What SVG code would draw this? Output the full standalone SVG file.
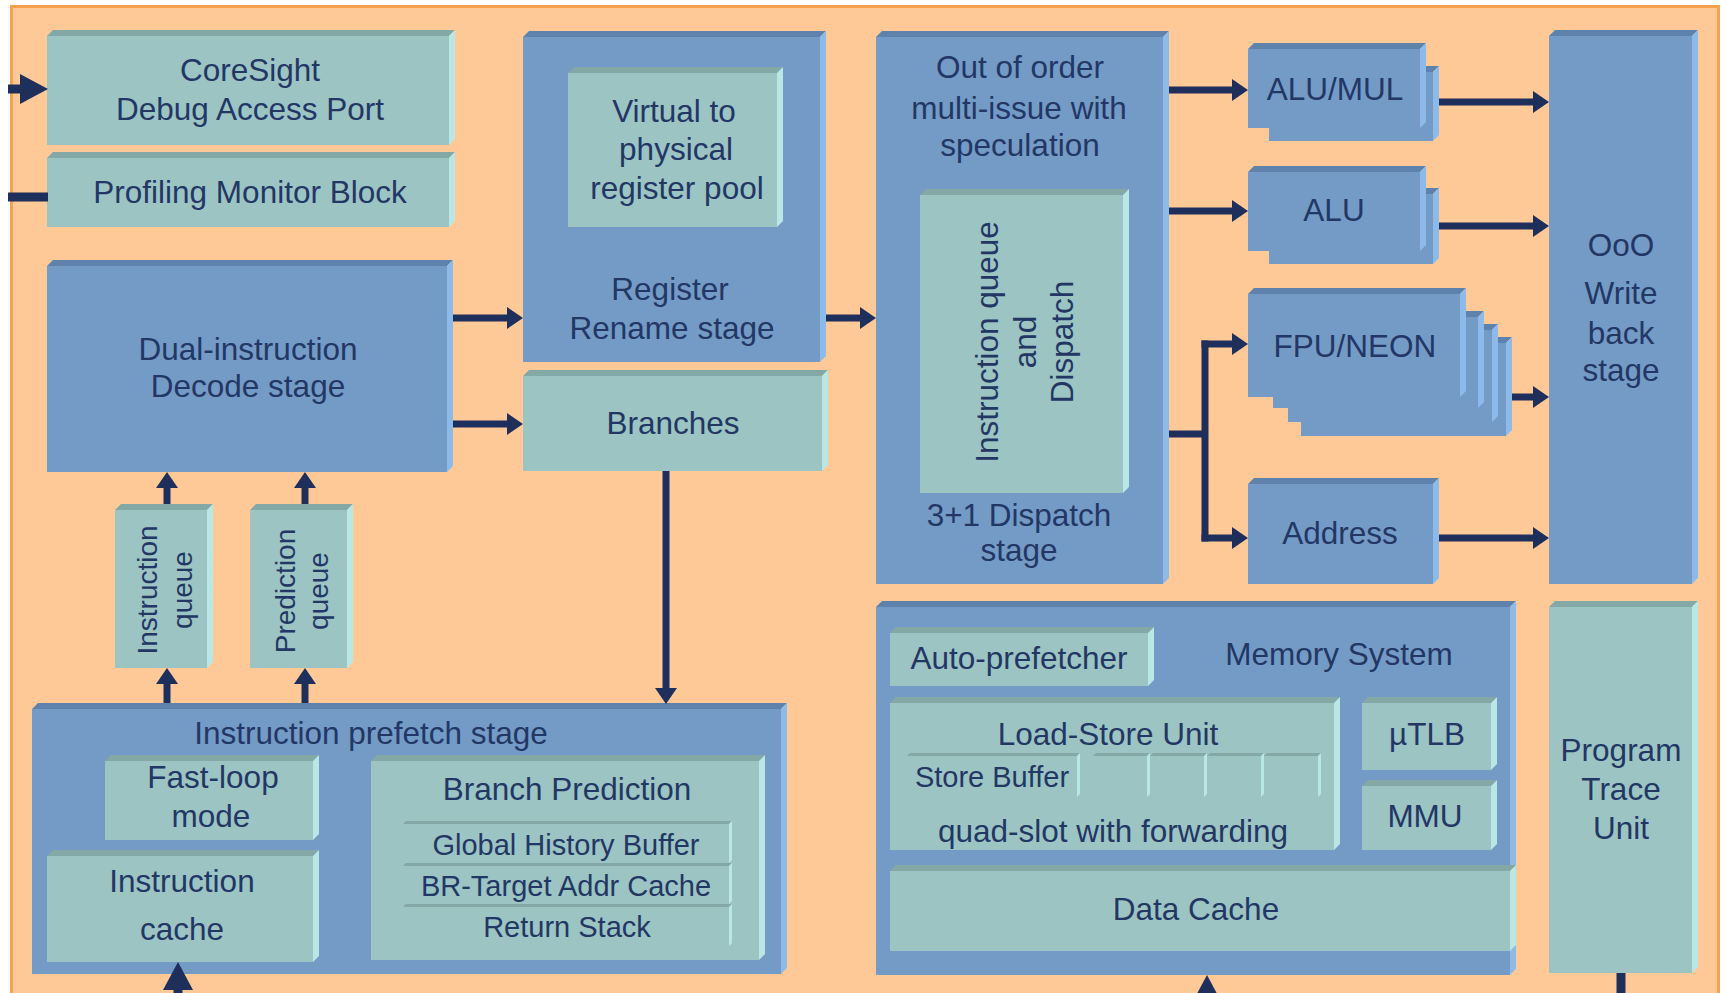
<svg xmlns="http://www.w3.org/2000/svg" width="1721" height="993" viewBox="0 0 1721 993">
<style>
.bf{fill:#749bc6}.bt{fill:#5f82ad}.br{fill:#8dbbe9}
.tf{fill:#9cc4c3}.tt{fill:#83a8a5}.tr{fill:#b8e7e5}
text{font-family:"Liberation Sans",Arial,sans-serif;font-size:31.5px;fill:#233765;text-anchor:middle}
.s{font-size:29px}
.q{font-size:28px}
.c{stroke:#1e2f5c;stroke-width:7;fill:none}
.cb{stroke-width:9}
</style>
<defs>
<marker id="ah" markerUnits="userSpaceOnUse" markerWidth="16" markerHeight="22" viewBox="0 0 16 22" refX="0" refY="11" orient="auto"><path d="M0,0 L16,11 L0,22 z" fill="#1e2f5c"/></marker>
<marker id="ahB" markerUnits="userSpaceOnUse" markerWidth="28" markerHeight="30" viewBox="0 0 28 30" refX="0" refY="15" orient="auto"><path d="M0,0 L28,15 L0,30 z" fill="#1e2f5c"/></marker>
</defs>
<rect x="0" y="0" width="1721" height="993" fill="#ffffff"/>
<rect x="11.5" y="6.5" width="1707" height="1000" fill="#fec996" stroke="#f6a24f" stroke-width="3"/>

<g id="coresight"><rect class="tf" x="47" y="36" width="402" height="109"/><polygon class="tt" points="47,36 53,30 455,30 449,36"/><polygon class="tr" points="449,36 455,30 455,139 449,145"/><text x="250" y="81">CoreSight</text><text x="250" y="120">Debug Access Port</text></g>
<g id="profiling"><rect class="tf" x="47" y="158" width="402" height="69"/><polygon class="tt" points="47,158 53,152 455,152 449,158"/><polygon class="tr" points="449,158 455,152 455,221 449,227"/><text x="250" y="203">Profiling Monitor Block</text></g>
<g id="decode"><rect class="bf" x="47" y="266" width="400" height="206"/><polygon class="bt" points="47,266 53,260 453,260 447,266"/><polygon class="br" points="447,266 453,260 453,466 447,472"/><text x="248" y="360">Dual-instruction</text><text x="248" y="397">Decode stage</text></g>
<g id="rename"><rect class="bf" x="523" y="37" width="297" height="325"/><polygon class="bt" points="523,37 529,31 826,31 820,37"/><polygon class="br" points="820,37 826,31 826,356 820,362"/><text x="670" y="300">Register</text><text x="672" y="339">Rename stage</text></g>
<g id="regpool"><rect class="tf" x="568" y="73" width="209" height="154"/><polygon class="tt" points="568,73 574,67 783,67 777,73"/><polygon class="tr" points="777,73 783,67 783,221 777,227"/><text x="674" y="122">Virtual to</text><text x="676" y="160">physical</text><text x="677" y="199">register pool</text></g>
<g id="branches"><rect class="tf" x="523" y="376" width="299" height="95"/><polygon class="tt" points="523,376 529,370 828,370 822,376"/><polygon class="tr" points="822,376 828,370 828,465 822,471"/><text x="673" y="434">Branches</text></g>
<g id="dispatch"><rect class="bf" x="876" y="37" width="287" height="547"/><polygon class="bt" points="876,37 882,31 1169,31 1163,37"/><polygon class="br" points="1163,37 1169,31 1169,578 1163,584"/><text x="1020" y="78">Out of order</text><text x="1019" y="119">multi-issue with</text><text x="1020" y="156">speculation</text><text x="1019" y="526">3+1 Dispatch</text><text x="1019" y="561">stage</text></g>
<g id="iqdispatch"><rect class="tf" x="920" y="195" width="203" height="298"/><polygon class="tt" points="920,195 926,189 1129,189 1123,195"/><polygon class="tr" points="1123,195 1129,189 1129,487 1123,493"/><text transform="translate(998,342) rotate(-90)">Instruction queue</text><text transform="translate(1036,342) rotate(-90)">and</text><text transform="translate(1073,342) rotate(-90)">Dispatch</text></g>
<g id="alumul"><rect class="bf" x="1269" y="72" width="164" height="69"/><polygon class="bt" points="1269,72 1275,66 1439,66 1433,72"/><polygon class="br" points="1433,72 1439,66 1439,135 1433,141"/><rect class="bf" x="1248" y="49" width="172" height="79"/><polygon class="bt" points="1248,49 1254,43 1426,43 1420,49"/><polygon class="br" points="1420,49 1426,43 1426,122 1420,128"/><text x="1335" y="100">ALU/MUL</text></g>
<g id="alu"><rect class="bf" x="1269" y="194" width="164" height="70"/><polygon class="bt" points="1269,194 1275,188 1439,188 1433,194"/><polygon class="br" points="1433,194 1439,188 1439,258 1433,264"/><rect class="bf" x="1248" y="172" width="172" height="79"/><polygon class="bt" points="1248,172 1254,166 1426,166 1420,172"/><polygon class="br" points="1420,172 1426,166 1426,245 1420,251"/><text x="1334" y="221">ALU</text></g>
<g id="fpuneon"><rect class="bf" x="1301" y="343" width="205" height="93"/><polygon class="bt" points="1301,343 1307,337 1512,337 1506,343"/><polygon class="br" points="1506,343 1512,337 1512,430 1506,436"/><rect class="bf" x="1288" y="330" width="204" height="92"/><polygon class="bt" points="1288,330 1294,324 1498,324 1492,330"/><polygon class="br" points="1492,330 1498,324 1498,416 1492,422"/><rect class="bf" x="1273" y="317" width="205" height="91"/><polygon class="bt" points="1273,317 1279,311 1484,311 1478,317"/><polygon class="br" points="1478,317 1484,311 1484,402 1478,408"/><rect class="bf" x="1248" y="294" width="212" height="103"/><polygon class="bt" points="1248,294 1254,288 1466,288 1460,294"/><polygon class="br" points="1460,294 1466,288 1466,391 1460,397"/><text x="1355" y="357">FPU/NEON</text></g>
<g id="address"><rect class="bf" x="1248" y="484" width="185" height="100"/><polygon class="bt" points="1248,484 1254,478 1439,478 1433,484"/><polygon class="br" points="1433,484 1439,478 1439,578 1433,584"/><text x="1340" y="544">Address</text></g>
<g id="writeback"><rect class="bf" x="1549" y="36" width="143" height="548"/><polygon class="bt" points="1549,36 1555,30 1698,30 1692,36"/><polygon class="br" points="1692,36 1698,30 1698,578 1692,584"/><text x="1621" y="256">OoO</text><text x="1621" y="304">Write</text><text x="1621" y="344">back</text><text x="1621" y="381">stage</text></g>
<g id="instrqueue"><rect class="tf" x="115" y="510" width="92" height="158"/><polygon class="tt" points="115,510 121,504 213,504 207,510"/><polygon class="tr" points="207,510 213,504 213,662 207,668"/><text class="q" transform="translate(157,590) rotate(-90)">Instruction</text><text class="q" transform="translate(192,590) rotate(-90)">queue</text></g>
<g id="predqueue"><rect class="tf" x="250" y="510" width="97" height="158"/><polygon class="tt" points="250,510 256,504 353,504 347,510"/><polygon class="tr" points="347,510 353,504 353,662 347,668"/><text class="q" transform="translate(295,591) rotate(-90)">Prediction</text><text class="q" transform="translate(328,591) rotate(-90)">queue</text></g>
<g id="prefetch"><rect class="bf" x="32" y="709" width="749" height="265"/><polygon class="bt" points="32,709 38,703 787,703 781,709"/><polygon class="br" points="781,709 787,703 787,968 781,974"/><text x="371" y="744">Instruction prefetch stage</text></g>
<g id="fastloop"><rect class="tf" x="105" y="761" width="208" height="79"/><polygon class="tt" points="105,761 111,755 319,755 313,761"/><polygon class="tr" points="313,761 319,755 319,834 313,840"/><text x="213" y="788">Fast-loop</text><text x="211" y="827">mode</text></g>
<g id="icache"><rect class="tf" x="47" y="856" width="266" height="106"/><polygon class="tt" points="47,856 53,850 319,850 313,856"/><polygon class="tr" points="313,856 319,850 319,956 313,962"/><text x="182" y="892">Instruction</text><text x="182" y="940">cache</text></g>
<g id="branchpred"><rect class="tf" x="371" y="761" width="388" height="199"/><polygon class="tt" points="371,761 377,755 765,755 759,761"/><polygon class="tr" points="759,761 765,755 765,954 759,960"/><text x="567" y="800">Branch Prediction</text>
<rect class="tf" x="403" y="824" width="326" height="39"/><polygon class="tt" points="403,824 406,821 732,821 729,824"/><polygon class="tr" points="729,824 732,821 732,860 729,863"/><text class="s" x="566" y="855">Global History Buffer</text>
<rect class="tf" x="403" y="866" width="326" height="38"/><polygon class="tt" points="403,866 406,863 732,863 729,866"/><polygon class="tr" points="729,866 732,863 732,901 729,904"/><text class="s" x="566" y="896">BR-Target Addr Cache</text>
<rect class="tf" x="403" y="907" width="326" height="39"/><polygon class="tt" points="403,907 406,904 732,904 729,907"/><polygon class="tr" points="729,907 732,904 732,943 729,946"/><text class="s" x="567" y="937">Return Stack</text></g>
<g id="memory"><rect class="bf" x="876" y="607" width="634" height="368"/><polygon class="bt" points="876,607 882,601 1516,601 1510,607"/><polygon class="br" points="1510,607 1516,601 1516,969 1510,975"/><text x="1339" y="665">Memory System</text></g>
<g id="autoprefetch"><rect class="tf" x="890" y="633" width="258" height="53"/><polygon class="tt" points="890,633 896,627 1154,627 1148,633"/><polygon class="tr" points="1148,633 1154,627 1154,680 1148,686"/><text x="1019" y="669">Auto-prefetcher</text></g>
<g id="lsu"><rect class="tf" x="890" y="703" width="444" height="147"/><polygon class="tt" points="890,703 896,697 1340,697 1334,703"/><polygon class="tr" points="1334,703 1340,697 1340,844 1334,850"/><text x="1108" y="745">Load-Store Unit</text>
<rect class="tf" x="907" y="756" width="170" height="41"/><polygon class="tt" points="907,756 910,753 1080,753 1077,756"/><polygon class="tr" points="1077,756 1080,753 1080,794 1077,797"/><text class="s" x="992" y="787">Store Buffer</text>
<rect class="tf" x="1093" y="756" width="54" height="41"/><polygon class="tt" points="1093,756 1096,753 1150,753 1147,756"/><polygon class="tr" points="1147,756 1150,753 1150,794 1147,797"/>
<rect class="tf" x="1150" y="756" width="54" height="41"/><polygon class="tt" points="1150,756 1153,753 1207,753 1204,756"/><polygon class="tr" points="1204,756 1207,753 1207,794 1204,797"/>
<rect class="tf" x="1207" y="756" width="54" height="41"/><polygon class="tt" points="1207,756 1210,753 1264,753 1261,756"/><polygon class="tr" points="1261,756 1264,753 1264,794 1261,797"/>
<rect class="tf" x="1264" y="756" width="54" height="41"/><polygon class="tt" points="1264,756 1267,753 1321,753 1318,756"/><polygon class="tr" points="1318,756 1321,753 1321,794 1318,797"/>
<text x="1113" y="842">quad-slot with forwarding</text></g>
<g id="utlb"><rect class="tf" x="1362" y="703" width="129" height="67"/><polygon class="tt" points="1362,703 1368,697 1497,697 1491,703"/><polygon class="tr" points="1491,703 1497,697 1497,764 1491,770"/><text x="1427" y="745">µTLB</text></g>
<g id="mmu"><rect class="tf" x="1362" y="786" width="129" height="64"/><polygon class="tt" points="1362,786 1368,780 1497,780 1491,786"/><polygon class="tr" points="1491,786 1497,780 1497,844 1491,850"/><text x="1425" y="827">MMU</text></g>
<g id="dcache"><rect class="tf" x="890" y="871" width="620" height="80"/><polygon class="tt" points="890,871 896,865 1516,865 1510,871"/><polygon class="tr" points="1510,871 1516,865 1516,945 1510,951"/><text x="1196" y="920">Data Cache</text></g>
<g id="ptm"><rect class="tf" x="1549" y="607" width="143" height="366"/><polygon class="tt" points="1549,607 1555,601 1698,601 1692,607"/><polygon class="tr" points="1692,607 1698,601 1698,967 1692,973"/><text x="1621" y="761">Program</text><text x="1621" y="800">Trace</text><text x="1621" y="839">Unit</text></g>

<g id="connectors">
<path class="c cb" d="M8,89 H20" marker-end="url(#ahB)"/>
<path class="c cb" d="M8,197 H48"/>
<path class="c" d="M453,318 H507" marker-end="url(#ah)"/>
<path class="c" d="M453,424 H507" marker-end="url(#ah)"/>
<path class="c" d="M826,318 H860" marker-end="url(#ah)"/>
<path class="c" d="M666,471 V688" marker-end="url(#ah)"/>
<path class="c" d="M167,703 V684" marker-end="url(#ah)"/>
<path class="c" d="M167,504 V488" marker-end="url(#ah)"/>
<path class="c" d="M305,703 V684" marker-end="url(#ah)"/>
<path class="c" d="M305,504 V488" marker-end="url(#ah)"/>
<path class="c" d="M1169,90 H1232" marker-end="url(#ah)"/>
<path class="c" d="M1169,211 H1232" marker-end="url(#ah)"/>
<path class="c" d="M1169,434 H1205"/>
<path class="c" d="M1205,340.5 V541.5"/>
<path class="c" d="M1201.5,344 H1232" marker-end="url(#ah)"/>
<path class="c" d="M1201.5,538 H1232" marker-end="url(#ah)"/>
<path class="c" d="M1439,102 H1533" marker-end="url(#ah)"/>
<path class="c" d="M1439,226 H1533" marker-end="url(#ah)"/>
<path class="c" d="M1512,397 H1533" marker-end="url(#ah)"/>
<path class="c" d="M1439,538 H1533" marker-end="url(#ah)"/>
<path class="c cb" d="M178,1005 V990" marker-end="url(#ahB)"/>
<path class="c cb" d="M1207,1010 V1003" marker-end="url(#ahB)"/>
<path class="c cb" d="M1621,973 V995"/>
</g>
</svg>
